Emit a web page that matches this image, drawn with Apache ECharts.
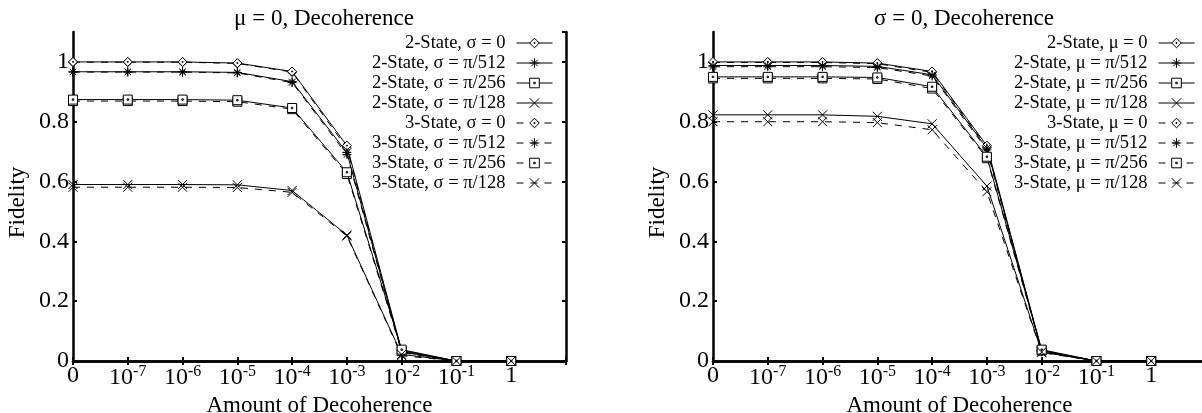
<!DOCTYPE html>
<html>
<head>
<meta charset="utf-8">
<script src="https://cdn.jsdelivr.net/npm/echarts@6/dist/echarts.min.js"></script>
<style>html,body{margin:0;padding:0;background:#fff}#c{width:1202px;height:413px}</style>
</head>
<body>
<div id="c"></div>
<script>
// ---- data ----
const categories = ['0','10^-7','10^-6','10^-5','10^-4','10^-3','10^-2','10^-1','1',''];
const leftTitle = 'μ = 0, Decoherence';
const rightTitle = 'σ = 0, Decoherence';
const leftNames = ['2-State, σ = 0','2-State, σ = π/512','2-State, σ = π/256','2-State, σ = π/128',
                   '3-State, σ = 0','3-State, σ = π/512','3-State, σ = π/256','3-State, σ = π/128'];
const rightNames = ['2-State, μ = 0','2-State, μ = π/512','2-State, μ = π/256','2-State, μ = π/128',
                    '3-State, μ = 0','3-State, μ = π/512','3-State, μ = π/256','3-State, μ = π/128'];
// left plot (mu = 0)
const left2S_s0   = [1.000,1.000,1.000,0.996,0.968,0.720,0.035,0,0];
const left2S_s512 = [0.967,0.967,0.967,0.965,0.934,0.697,0.032,0,0];
const left2S_s256 = [0.874,0.874,0.874,0.872,0.846,0.631,0.038,0,0];
const left2S_s128 = [0.590,0.590,0.590,0.589,0.570,0.421,0.022,0,0];
const left3S_s0   = [0.999,0.999,0.999,0.995,0.966,0.712,0.030,0,0];
const left3S_s512 = [0.966,0.966,0.966,0.963,0.931,0.690,0.028,0,0];
const left3S_s256 = [0.869,0.869,0.869,0.867,0.842,0.625,0.033,0,0];
const left3S_s128 = [0.581,0.581,0.581,0.580,0.564,0.418,0.018,0,0];
// right plot (sigma = 0)
const right2S_m0   = [1.000,1.000,1.000,0.996,0.968,0.720,0.035,0,0];
const right2S_m512 = [0.988,0.988,0.988,0.985,0.957,0.712,0.034,0,0];
const right2S_m256 = [0.950,0.950,0.950,0.948,0.917,0.683,0.038,0,0];
const right2S_m128 = [0.823,0.823,0.823,0.818,0.793,0.585,0.030,0,0];
const right3S_m0   = [0.998,0.998,0.998,0.994,0.965,0.715,0.032,0,0];
const right3S_m512 = [0.984,0.984,0.984,0.981,0.953,0.706,0.031,0,0];
const right3S_m256 = [0.945,0.945,0.945,0.943,0.911,0.678,0.035,0,0];
const right3S_m128 = [0.800,0.800,0.800,0.797,0.773,0.566,0.028,0,0];

// ---- styling ----
const FONT = 'Liberation Serif';
const SYM = {
  diamond: 'path://M5,0L10,5L5,10L0,5Z M4.5,4.5L5.5,4.5L5.5,5.5L4.5,5.5Z',
  star: 'path://M5,0L5,10M0,5L10,5M1.6,1.6L8.4,8.4M8.4,1.6L1.6,8.4',
  square: 'path://M0,0L10,0L10,10L0,10Z M4.2,4.2L5.8,4.2L5.8,5.8L4.2,5.8Z',
  cross: 'path://M0,0L10,10M10,0L0,10'
};
const symOrder = [SYM.diamond, SYM.star, SYM.square, SYM.cross];

const grids = [
  {left: 73, top: 32, right: 636, bottom: 52, outerBoundsMode: 'none', containLabel: false},
  {left: 713, top: 32, right: -4, bottom: 52, outerBoundsMode: 'none', containLabel: false}
];

function fmtCat(v) {
  if (v.indexOf('10^') === 0) return '{b|10}{sup|' + v.slice(3) + '}';
  return v === '' ? '' : '{b|' + v + '}';
}
const axisLineStyle = {show: true, lineStyle: {color: '#000', width: 2.5}};
const tickStyle = {show: true, inside: true, length: 4, lineStyle: {color: '#000', width: 2}};

const xAxes = [], yAxes = [];
[0, 1].forEach(g => {
  xAxes.push({
    type: 'category', gridIndex: g, data: categories, boundaryGap: false, position: 'bottom',
    axisLine: axisLineStyle, axisTick: Object.assign({interval: 0}, tickStyle),
    splitLine: {show: false},
    axisLabel: {interval: 0, margin: 3, color: '#000', fontFamily: FONT, fontSize: 24,
      formatter: fmtCat,
      rich: {b: {fontSize: 24, fontFamily: FONT, color: '#000'},
             sup: {fontSize: 16, fontFamily: FONT, color: '#000', padding: [0, 0, 11, 0]}}},
    name: 'Amount of Decoherence', nameLocation: 'middle', nameGap: 25,
    nameTextStyle: {fontFamily: FONT, fontSize: 23, color: '#000'}
  });
  xAxes.push({
    type: 'category', gridIndex: g, data: categories, boundaryGap: false, position: 'top',
    axisLine: axisLineStyle, axisTick: Object.assign({interval: 0}, tickStyle),
    axisLabel: {show: false}, splitLine: {show: false}
  });
  yAxes.push({
    type: 'value', gridIndex: g, min: 0, max: 1.1, interval: 0.2, position: 'left',
    axisLine: axisLineStyle, axisTick: tickStyle, splitLine: {show: false},
    axisLabel: {showMaxLabel: false, margin: 4, color: '#000', fontFamily: FONT, fontSize: 24},
    name: 'Fidelity', nameLocation: 'middle', nameGap: 44, nameRotate: 90,
    nameTextStyle: {fontFamily: FONT, fontSize: 23, color: '#000', padding: [0, 12, 0, 0]}
  });
  yAxes.push({
    type: 'value', gridIndex: g, min: 0, max: 1.1, interval: 0.2, position: 'right',
    axisLine: axisLineStyle, axisTick: tickStyle, splitLine: {show: false},
    axisLabel: {show: false}
  });
});

const leftData = [left2S_s0, left2S_s512, left2S_s256, left2S_s128, left3S_s0, left3S_s512, left3S_s256, left3S_s128];
const rightData = [right2S_m0, right2S_m512, right2S_m256, right2S_m128, right3S_m0, right3S_m512, right3S_m256, right3S_m128];

const series = [];
function addSeries(names, datas, g) {
  names.forEach((n, i) => {
    const dashed = i >= 4;
    series.push({
      type: 'line', name: n, data: datas[i],
      xAxisIndex: g * 2, yAxisIndex: g * 2,
      symbol: symOrder[i % 4], symbolSize: 9, showSymbol: true,
      z: dashed ? 2 : 3,
      lineStyle: {color: '#000', width: 1, type: dashed ? [7, 7] : 'solid'},
      itemStyle: {color: '#fff', borderColor: '#000', borderWidth: 1},
      emphasis: {disabled: true}, silent: true
    });
  });
}
addSeries(leftNames, leftData, 0);
addSeries(rightNames, rightData, 1);

const legendCommon = {
  orient: 'vertical', align: 'right', top: 33, padding: 0,
  itemWidth: 36, itemHeight: 12, itemGap: 0,
  selectedMode: false,
  itemStyle: {color: '#fff', borderColor: '#000', borderWidth: 1},
  lineStyle: {color: '#000', width: 1},
  textStyle: {fontFamily: FONT, fontSize: 18.5, color: '#000', lineHeight: 20, padding: [0, 6, 0, 0]}
};

const option = {
  animation: false,
  backgroundColor: '#fff',
  title: [
    {text: leftTitle, left: 319, top: 2, textAlign: 'center',
     textStyle: {fontFamily: FONT, fontSize: 23, fontWeight: 'normal', color: '#000'}},
    {text: rightTitle, left: 959, top: 2, textAlign: 'center',
     textStyle: {fontFamily: FONT, fontSize: 23, fontWeight: 'normal', color: '#000'}}
  ],
  grid: grids,
  xAxis: xAxes,
  yAxis: yAxes,
  legend: [
    Object.assign({}, legendCommon, {data: leftNames, right: 1202 - 553}),
    Object.assign({}, legendCommon, {data: rightNames, right: 1202 - 1195})
  ],
  series: series
};
const chart = echarts.init(document.getElementById('c'), null, {renderer: 'canvas'});
chart.setOption(option);
</script>
</body>
</html>
